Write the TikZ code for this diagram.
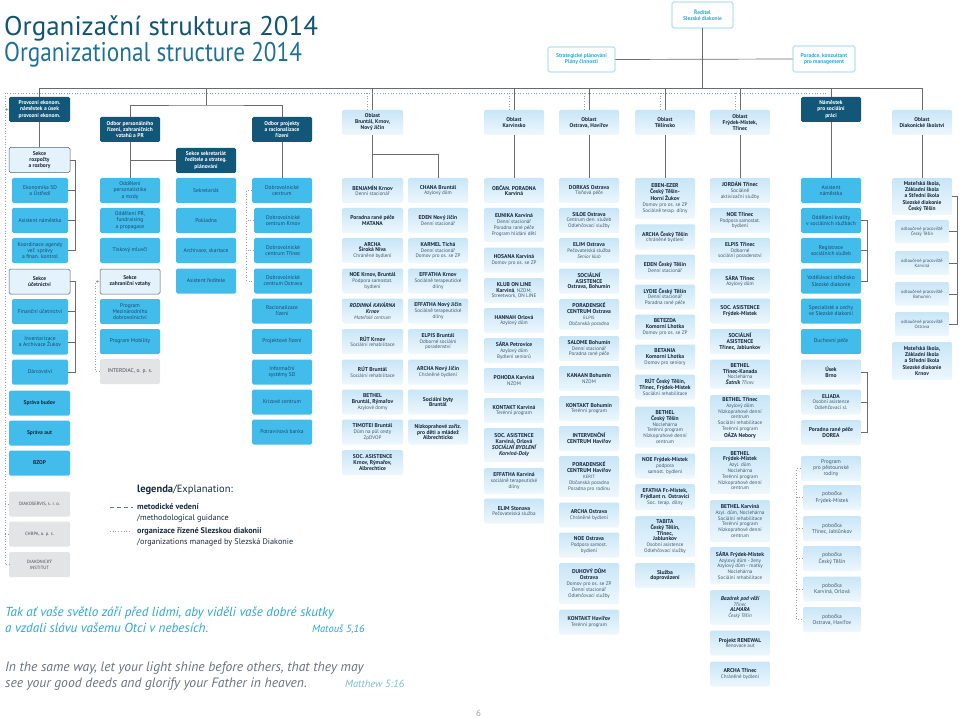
\documentclass[tikz,border=0pt]{standalone}
\usepackage{fontspec}
\setmainfont{PT Sans}
\newfontfamily\titlenarrow[FakeStretch=0.86]{PT Sans}
\usetikzlibrary{calc}
\usetikzlibrary{arrows.meta}
\usetikzlibrary{positioning}

\definecolor{headblue}{RGB}{18,86,120}
\definecolor{unitcyan}{RGB}{66,188,235}
\definecolor{unittext}{RGB}{30,72,112}
\definecolor{secfill}{RGB}{228,243,251}
\definecolor{secline}{RGB}{80,96,108}
\definecolor{svctop}{RGB}{200,230,247}
\definecolor{svcbot}{RGB}{238,247,253}
\definecolor{svctext}{RGB}{26,42,62}
\definecolor{subtext}{RGB}{62,88,112}
\definecolor{extfill}{RGB}{226,228,230}
\definecolor{exttext}{RGB}{70,74,78}
\definecolor{dircyan}{RGB}{44,168,218}
\definecolor{linegrey}{RGB}{105,108,110}
\definecolor{dotgrey}{RGB}{150,156,162}
\definecolor{titledark}{RGB}{16,84,118}
\definecolor{titlelight}{RGB}{32,112,150}
\definecolor{versecyan}{RGB}{38,168,214}
\definecolor{versegrey}{RGB}{105,115,125}
\definecolor{refteal}{RGB}{120,188,210}
\definecolor{legteal}{RGB}{40,140,180}

\newcommand{\boxfont}{\fontsize{5.5}{6.1}\selectfont}
\newcommand{\subfont}{\fontsize{5.1}{5.8}\selectfont}
\newcommand{\smfont}{\fontsize{4.6}{5.3}\selectfont}
\newcommand{\tb}[1]{{\fontsize{5.6}{6}\selectfont\bfseries\color{svctext}#1}}
\newcommand{\tbi}[1]{{\fontsize{5.6}{6}\selectfont\bfseries\itshape\color{svctext}#1}}

\tikzset{
	orgbox/.style={
		rounded corners=1.5pt,
		inner sep=1pt,
		minimum width=60pt,
		minimum height=25pt,
		align=center,
	},
	head/.style={orgbox, fill=headblue, text=white, font=\boxfont\bfseries},
	sekce/.style={orgbox, draw=secline, line width=0.5pt, fill=secfill, text=svctext, font=\boxfont\bfseries, minimum width=61pt},
	unit/.style={orgbox, fill=unitcyan, text=unittext, font=\boxfont},
	svc/.style={orgbox, top color=svctop, bottom color=svcbot, text=subtext, font=\subfont},
	ext/.style={orgbox, fill=extfill, text=exttext, font=\smfont, minimum width=61pt},
	dirbox/.style={orgbox, draw=dircyan!60, line width=0.6pt, fill=white, text=dircyan, font=\boxfont\bfseries},
	link/.style={draw=linegrey, line width=0.7pt},
	mgd/.style={draw=dotgrey, dotted, line width=0.7pt},
	arr/.style={-{Latex[length=3pt,width=3pt]}},
	plain/.style={anchor=base west, inner sep=0pt},
}

\begin{document}
\begin{tikzpicture}[x=1pt,y=-1pt]
	\useasboundingbox (0,0) rectangle (960,719);

	\node[plain, font=\fontsize{27}{30}\selectfont, text=titledark] (title) at (4,36) {Organizační struktura 2014};
	\node[plain, font=\titlenarrow\fontsize{27}{30}\selectfont, text=titlelight] (titleen) at (4,62) {Organizational structure 2014};

%*********

	\node[dirbox, minimum width=61pt, minimum height=26pt] (dir) at (702.5,15) {Ředitel\\Slezské diakonie};
	\node[dirbox, minimum width=67pt] (strat) at (581.5,59.5) {Strategické plánování\\Plány činnosti};
	\node[dirbox, minimum width=62pt, minimum height=26pt] (porad) at (824,59) {Poradce, konzultant\\pro management};

	\node[head, minimum width=61pt] (provoz) at (39.5,109.5) {Provozní ekonom.\\náměstek a úsek\\provozní ekonom.};
	\node[head] (pers) at (130,129.5) {Odbor personálního\\řízení, zahraničních\\vztahů a PR};
	\node[head] (sekr) at (206,160.5) {Sekce sekretariát\\ředitele a strateg.\\plánování};
	\node[head] (proj) at (282,129.5) {Odbor projekty\\a racionalizace\\řízení};
	\node[svc, font=\boxfont\bfseries, text=svctext, minimum width=61pt] (brun) at (372.5,122.5) {Oblast\\Bruntál, Krnov,\\Nový Jičín};
	\node[svc, font=\boxfont\bfseries, text=svctext] (karv) at (514,122.5) {Oblast\\Karvinsko};
	\node[svc, font=\boxfont\bfseries, text=svctext] (ostr) at (589,122.5) {Oblast\\Ostrava, Havířov};
	\node[svc, font=\boxfont\bfseries, text=svctext] (tes) at (665,122.5) {Oblast\\Těšínsko};
	\node[svc, font=\boxfont\bfseries, text=svctext] (frm) at (740,122.5) {Oblast\\Frýdek-Místek,\\Třinec};
	\node[head] (nam) at (831,109.5) {Náměstek\\pro sociální\\práci};
	\node[svc, font=\boxfont\bfseries, text=svctext] (skol) at (922,122.5) {Oblast\\Diakonické školství};

	\coordinate (busl) at (39.5,88);
	\coordinate (busr) at (922,88);
	\coordinate (subbus) at (206,105);
	\coordinate (dotl) at (5,93);
	\coordinate (dotr) at (826,93);

	\draw[link] (provoz.north) |- (busr) -- (skol.north);
	\draw[link] (dir.south) -- (dir.south |- busl);
	\draw[link] (strat.east) -- (porad.west);
	\draw[link] (subbus) -- (subbus |- busl);
	\draw[link] (pers.north) |- (subbus) -| (proj.north);
	\foreach \o in {brun,karv,ostr,tes,frm,nam}
		\draw[link] (\o.north) -- (\o.north |- busl);

	\draw[mgd] (dotr) -- (dotl);
	\foreach \o in {brun,karv,ostr,tes,frm}
		\draw[mgd] ([xshift=-5pt]\o.north) -- ([xshift=-5pt]\o.north |- dotl);

%*********  provozni usek

	\node[sekce] (rozp) at (39.5,160) {Sekce\\rozpočty\\a rozbory};
	\node[unit, minimum width=56pt] (ekon) at (40,190.5) {Ekonomika SD\\a Ústředí};
	\node[unit, minimum width=56pt] (asn) at (40,220.5) {Asistent náměstka};
	\node[unit, minimum width=56pt] (koord) at (40,250.5) {Koordinace agendy\\veř. správy\\a finan. kontrol};
	\node[sekce] (ucet) at (39.5,281.5) {Sekce\\účetnictví};
	\node[unit, minimum width=56pt] (finuc) at (40,311.5) {Finanční účetnictví};
	\node[unit, minimum width=56pt] (invent) at (40,342) {Inventarizace\\a Archivace Žukov};
	\node[unit, minimum width=56pt] (darc) at (40,372) {Dárcovství};
	\node[unit, minimum width=61pt, font=\boxfont\bfseries, text=svctext] (budov) at (39.5,403) {Správa budov};
	\node[unit, minimum width=61pt, font=\boxfont\bfseries, text=svctext] (aut) at (39.5,433) {Správa aut};
	\node[unit, minimum width=61pt, font=\boxfont\bfseries, text=svctext] (bzop) at (39.5,463) {BZOP};
	\node[ext] (diako) at (39.5,504) {DIAKOSERVIS, s. r. o.};
	\node[ext] (chrpa) at (39.5,534) {CHRPA, o. p. s.};
	\node[ext] (instit) at (39.5,564.5) {DIAKONICKÝ\\INSTITUT};

	\draw[link] (provoz.south) -- (rozp.north);
	\draw[link] (rozp.east) -| ([xshift=7pt]koord.east) -- (koord.east);
	\draw[link] (ekon.east) -- ++(7,0);
	\draw[link] (asn.east) -- ++(7,0);
	\draw[link] (ucet.east) -| ([xshift=7pt]darc.east) -- (darc.east);
	\draw[link] (finuc.east) -- ++(7,0);
	\draw[link] (invent.east) -- ++(7,0);

	\draw[mgd] (dotl) |- (instit.west);
	\draw[mgd,arr] (dotl |- provoz.west) -- (provoz.west);
	\draw[mgd] (diako.west) -- (diako.west -| dotl);
	\draw[mgd] (chrpa.west) -- (chrpa.west -| dotl);

%*********  personalni, sekretariat, projekty

	\node[unit] (mzdy) at (130,190.5) {Oddělení\\personalistika\\a mzdy};
	\node[unit] (pr) at (130,220.5) {Oddělení PR,\\fundraising\\a propagace};
	\node[unit] (tisk) at (130,250.5) {Tiskový mluvčí};
	\node[sekce, minimum width=60pt] (zahr) at (130,281.5) {Sekce\\zahraniční vztahy};
	\node[unit] (mezin) at (130,311.5) {Program\\Mezinárodního\\dobrovolnictví};
	\node[unit] (mobil) at (130,341.5) {Program Mobility};
	\node[ext, minimum width=60pt, font=\boxfont] (interd) at (130,371.5) {INTERDIAC, o. p. s.};

	\node[unit] (sekrt) at (206,190.5) {Sekretariát};
	\node[unit] (pokl) at (206,220.5) {Pokladna};
	\node[unit] (archiv) at (206,250.5) {Archivace, skartace};
	\node[unit] (asred) at (206,281) {Asistent ředitele};

	\node[unit] (dobr) at (282,190.5) {Dobrovolnické\\centrum};
	\node[unit, minimum width=58pt] (dobrkrn) at (283,220.5) {Dobrovolnické\\centrum Krnov};
	\node[unit, minimum width=58pt] (dobrtri) at (283,250.5) {Dobrovolnické\\centrum Třinec};
	\node[unit, minimum width=58pt] (dobrost) at (283,281) {Dobrovolnické\\centrum Ostrava};
	\node[unit] (racio) at (282,311) {Racionalizace\\řízení};
	\node[unit] (projr) at (282,341.5) {Projektové řízení};
	\node[unit] (infsys) at (282,372) {Informační\\systémy SD};
	\node[unit] (kriz) at (282,402) {Krizové centrum};
	\node[unit] (potr) at (282,432) {Potravinová banka};

	\draw[link] (pers.south) -- (mzdy.north);
	\draw[link] (sekr.west) -- (sekr.west -| pers.south);
	\draw[mgd,arr] (interd.west) -- ++(-4,0) |- (zahr.west);
	\draw[link] (proj.south) -- (dobr.north);
	\draw[mgd] (dobr.west) -- ++(-5,0) |- (dobrost.west);
	\draw[mgd] (dobrkrn.west) -- ++(-7,0);
	\draw[mgd] (dobrtri.west) -- ++(-7,0);

%*********  oblast Bruntal, Krnov, Novy Jicin

	\node[svc, minimum width=61pt] (benj) at (372.5,190.5) {\tb{BENJAMÍN Krnov}\\Denní stacionář};
	\node[svc, minimum width=61pt] (matana) at (372.5,220.5) {\tb{Poradna rané péče}\\\tb{MATANA}};
	\node[svc, minimum width=61pt] (archsn) at (372.5,250.5) {\tb{ARCHA}\\\tb{Široká Niva}\\Chráněné bydlení};
	\node[svc, minimum width=61pt] (noekr) at (372.5,281) {\tb{NOE Krnov, Bruntál}\\Podpora samostat.\\bydlení};
	\node[svc, minimum width=61pt] (kavarna) at (372.5,311) {\tbi{RODINNÁ KAVÁRNA}\\\tbi{Krnov}\\\textit{Mateřské centrum}};
	\node[svc, minimum width=61pt] (rutkr) at (372.5,341.5) {\tb{RÚT Krnov}\\Sociální rehabilitace};
	\node[svc, minimum width=61pt] (rutbr) at (372.5,372) {\tb{RÚT Bruntál}\\Sociální rehabilitace};
	\node[svc, minimum width=61pt] (bethbr) at (372.5,402) {\tb{BETHEL}\\\tb{Bruntál, Rýmařov}\\Azylové domy};
	\node[svc, minimum width=61pt] (timot) at (372.5,432) {\tb{TIMOTEI Bruntál}\\Dům na půl cesty\\ZpDVOP};
	\node[svc, minimum width=61pt] (asikr) at (372.5,462.5) {\tb{SOC. ASISTENCE}\\\tb{Krnov, Rýmařov,}\\\tb{Albrechtice}};

	\node[svc] (chana) at (438,190.5) {\tb{CHANA Bruntál}\\Azylový dům};
	\node[svc] (edennj) at (438,220.5) {\tb{EDEN Nový Jičín}\\Denní stacionář};
	\node[svc] (karmel) at (438,250.5) {\tb{KARMEL Tichá}\\Denní stacionář\\Domov pro os. se ZP};
	\node[svc] (effkr) at (438,281) {\tb{EFFATHA Krnov}\\Sociálně terapeutické\\dílny};
	\node[svc] (effnj) at (438,311) {\tb{EFFATHA Nový Jičín}\\Sociálně terapeutické\\dílny};
	\node[svc] (elpbr) at (438,341.5) {\tb{ELPIS Bruntál}\\Odborné sociální\\poradenství};
	\node[svc] (archnj) at (438,372) {\tb{ARCHA Nový Jičín}\\Chráněné bydlení};
	\node[svc] (byty) at (438,402) {\tb{Sociální byty}\\\tb{Bruntál}};
	\node[svc] (nizko) at (438,432) {\tb{Nízkoprahové zaříz.}\\\tb{pro děti a mládež}\\\tb{Albrechticko}};

	\coordinate (brsplit) at (372.5,154);
	\draw[link] (brun.south) -- (benj.north);
	\draw[link] (brsplit) -| (chana.north);

%*********  oblast Karvinsko

	\node[svc] (obcan) at (514,190.5) {\tb{OBČAN. PORADNA}\\\tb{Karviná}};
	\node[svc, minimum height=34pt] (eunika) at (514,225) {\tb{EUNIKA Karviná}\\Denní stacionář\\Poradna rané péče\\Program hlídání dětí};
	\node[svc] (hosana) at (514,260) {\tb{HOSANA Karviná}\\Domov pro os. se ZP};
	\node[svc] (klub) at (514,290.5) {\tb{KLUB ON LINE}\\\tb{Karviná}, NZDM,\\Streetwork, ON LINE};
	\node[svc] (hannah) at (514,320.5) {\tb{HANNAH Orlová}\\Azylový dům};
	\node[svc] (sarape) at (514,350.5) {\tb{SÁRA Petrovice}\\Azylový dům\\Bydlení seniorů};
	\node[svc] (pohoda) at (514,380.5) {\tb{POHODA Karviná}\\NZDM};
	\node[svc] (kontkv) at (514,410.5) {\tb{KONTAKT Karviná}\\Terénní program};
	\node[svc, minimum height=34pt] (asikv) at (514,445) {\tb{SOC. ASISTENCE}\\\tb{Karviná, Orlová}\\\tbi{SOCIÁLNÍ BYDLENÍ}\\\tbi{Karviná-Doly}};
	\node[svc, minimum height=26pt] (effkv) at (514,481) {\tb{EFFATHA Karviná}\\sociálně terapeutické\\dílny};
	\node[svc] (elimst) at (514,511) {\tb{ELIM Stonava}\\Pečovatelská služba};

	\draw[link] (karv.south) -- (obcan.north);

%*********  oblast Ostrava, Havirov

	\node[svc] (dorkas) at (589,190.5) {\tb{DORKAS Ostrava}\\Tísňová péče};
	\node[svc] (siloe) at (589,220.5) {\tb{SILOE Ostrava}\\Centrum den. služeb\\Odlehčovací služby};
	\node[svc] (elimos) at (589,250.5) {\tb{ELIM Ostrava}\\Pečovatelská služba\\\textit{Senior klub}};
	\node[svc] (asios) at (589,281) {\tb{SOCIÁLNÍ}\\\tb{ASISTENCE}\\\tb{Ostrava, Bohumín}};
	\node[svc, minimum height=31pt] (porost) at (589,314.5) {\tb{PORADENSKÉ}\\\tb{CENTRUM Ostrava}\\{\smfont ELPIS}\\Občanská poradna};
	\node[svc] (salome) at (589,348.5) {\tb{SALOME Bohumín}\\Denní stacionář\\Poradna rané péče};
	\node[svc] (kanaan) at (589,378.5) {\tb{KANAAN Bohumín}\\NZDM};
	\node[svc] (kontbo) at (589,408.5) {\tb{KONTAKT Bohumín}\\Terénní program};
	\node[svc] (interv) at (589,438.5) {\tb{INTERVENČNÍ}\\\tb{CENTRUM Havířov}};
	\node[svc, minimum height=41pt] (porhav) at (589,476.5) {\tb{PORADENSKÉ}\\\tb{CENTRUM Havířov}\\{\smfont KERIT}\\Občanská poradna\\Poradna pro rodinu};
	\node[svc] (archos) at (589,515) {\tb{ARCHA Ostrava}\\Chráněné bydlení};
	\node[svc] (noeos) at (589,545) {\tb{NOE Ostrava}\\Podpora samost.\\bydlení};
	\node[svc, minimum height=41pt] (duhovy) at (589,583.5) {\tb{DUHOVÝ DŮM}\\\tb{Ostrava}\\Domov pro os. se ZP\\Denní stacionář\\Odlehčovací služby};
	\node[svc] (konthav) at (589,622) {\tb{KONTAKT Havířov}\\Terénní program};

	\draw[link] (ostr.south) -- (dorkas.north);

%*********  oblast Tesinsko

	\node[svc, minimum height=41pt] (eben) at (665,198.5) {\tb{EBEN-EZER}\\\tb{Český Těšín-}\\\tb{Horní Žukov}\\Domov pro os. se ZP\\Sociálně terap. dílny};
	\node[svc] (archct) at (665,237) {\tb{ARCHA Český Těšín}\\chráněné bydlení};
	\node[svc] (edenct) at (665,267) {\tb{EDEN Český Těšín}\\Denní stacionář};
	\node[svc] (lydie) at (665,297) {\tb{LYDIE Český Těšín}\\Denní stacionář\\Poradna rané péče};
	\node[svc] (betezda) at (665,327) {\tb{BETEZDA}\\\tb{Komorní Lhotka}\\Domov pro os. se ZP};
	\node[svc] (betania) at (665,357) {\tb{BETANIA}\\\tb{Komorní Lhotka}\\Domov pro seniory};
	\node[svc] (rutct) at (665,387) {\tb{RÚT Český Těšín,}\\\tb{Třinec, Frýdek-Místek}\\Sociální rehabilitace};
	\node[svc, minimum height=41pt] (bethct) at (665,427) {\tb{BETHEL}\\\tb{Český Těšín}\\Noclehárna\\Terénní program\\Nízkoprahové denní\\centrum};
	\node[svc] (noefm) at (665,466) {\tb{NOE Frýdek-Místek}\\podpora\\samost. bydlení};
	\node[svc, minimum height=26pt] (efafm) at (665,497) {\tb{EFATHA Fr.-Místek,}\\\tb{Frýdlant n. Ostravicí}\\Soc. terap. dílny};
	\node[svc, minimum height=41pt] (tabita) at (665,536.5) {\tb{TABITA}\\\tb{Český Těšín,}\\\tb{Třinec,}\\\tb{Jablunkov}\\Osobní asistence\\Odlehčovací služby};
	\node[svc] (doprov) at (665,575.5) {\tb{Služba}\\\tb{doprovázení}};

	\draw[link] (tes.south) -- (eben.north);

%*********  oblast Frydek-Mistek, Trinec

	\node[svc] (jordan) at (740,190.5) {\tb{JORDÁN Třinec}\\Sociálně\\aktivizační služby};
	\node[svc] (noetr) at (740,220.5) {\tb{NOE Třinec}\\Podpora samostat.\\bydlení};
	\node[svc] (elptr) at (740,250.5) {\tb{ELPIS Třinec}\\Odborné\\sociální poradenství};
	\node[svc] (saratr) at (740,281) {\tb{SÁRA Třinec}\\Azylový dům};
	\node[svc] (asifm) at (740,311) {\tb{SOC. ASISTENCE}\\\tb{Frýdek-Místek}};
	\node[svc] (asitr) at (740,341.5) {\tb{SOCIÁLNÍ}\\\tb{ASISTENCE}\\\tb{Třinec, Jablunkov}};
	\node[svc, minimum height=29pt] (bethka) at (740,374) {\tb{BETHEL}\\\tb{Třinec-Kanada}\\Noclehárna\\\tbi{Šatník} \textit{Třinec}};
	\node[svc, minimum height=46pt] (bethtr) at (740,418) {\tb{BETHEL Třinec}\\Azylový dům\\Nízkoprahové denní\\centrum\\Sociální rehabilitace\\Terénní program\\\tb{OÁZA Nebory}};
	\node[svc, minimum height=47pt] (bethfm) at (740,470.5) {\tb{BETHEL}\\\tb{Frýdek-Místek}\\Azyl. dům\\Noclehárna\\Terénní program\\Nízkoprahové denní\\centrum};
	\node[svc, minimum height=42pt] (bethkv) at (740,521) {\tb{BETHEL Karviná}\\Azyl. dům, Noclehárna\\Sociální rehabilitace\\Terénní program\\Nízkoprahové denní\\centrum};
	\node[svc, minimum height=37pt] (sarafm) at (740,565.5) {\tb{SÁRA Frýdek-Místek}\\Azylový dům - ženy\\Azylový dům - matky\\Noclehárna\\Sociální rehabilitace};
	\node[svc, minimum height=35pt] (bazar) at (740,607.5) {\tbi{Bazárek pod věží}\\\textit{Třinec}\\\tbi{ALMARA}\\\textit{Český Těšín}};
	\node[svc] (renew) at (740,643) {\tb{Projekt RENEWAL}\\Renovace aut};
	\node[svc] (archtr) at (740,674) {\tb{ARCHA Třinec}\\Chráněné bydlení};

	\draw[link] (frm.south) -- (jordan.north);

%*********  namestek pro socialni praci

	\node[unit] (nasist) at (831,190.5) {Asistent\\náměstka};
	\node[unit] (kval) at (831,220.5) {Oddělení kvality\\v sociálních službách};
	\node[unit] (regist) at (831,250.5) {Registrace\\sociálních služeb};
	\node[unit] (vzdel) at (831,281) {Vzdělávací středisko\\Slezské diakonie};
	\node[unit] (special) at (831,311) {Specialisté a cechy\\ve Slezské diakonii};
	\node[unit] (duch) at (831,341.5) {Duchovní péče};
	\node[svc] (brno) at (831,372) {\tb{Úsek}\\\tb{Brno}};
	\node[svc] (eliada) at (831,402) {\tb{ELIADA}\\Osobní asistence\\Odlehčovací sl.};
	\node[svc] (dorea) at (831,432.5) {\tb{Poradna rané péče}\\\tb{DOREA}};
	\node[svc, font=\boxfont] (pest) at (831,468.5) {Program\\pro pěstounské\\rodiny};
	\node[svc, font=\boxfont, minimum width=58pt] (pobfm) at (832,497.5) {pobočka\\Frýdek-Místek};
	\node[svc, font=\boxfont, minimum width=58pt] (pobtr) at (832,528.5) {pobočka\\Třinec, Jablůnkov};
	\node[svc, font=\boxfont, minimum width=58pt] (pobct) at (832,558.5) {pobočka\\Český Těšín};
	\node[svc, font=\boxfont, minimum width=58pt] (pobkv) at (832,589) {pobočka\\Karviná, Orlová};
	\node[svc, font=\boxfont, minimum width=58pt] (pobos) at (832,619.5) {pobočka\\Ostrava, Havířov};

	\draw[link] (nam.south) -- (nasist.north);
	\draw[link] (kval.east) -| ([xshift=6pt]vzdel.east) -- (vzdel.east);
	\draw[link] (regist.east) -- ++(6,0);
	\draw[link] (brno.east) -| ([xshift=6pt]dorea.east) -- (dorea.east);
	\draw[link] (eliada.east) -- ++(6,0);
	\draw[mgd] (pest.west) -- ++(-4,0) |- (pobos.west);
	\foreach \p in {pobfm,pobtr,pobct,pobkv}
		\draw[mgd] (\p.west) -- ++(-6,0);

%*********  oblast Diakonicke skolstvi

	\node[svc, font=\boxfont\bfseries, text=svctext, minimum height=37pt] (ms1) at (922,196.5) {Mateřská škola,\\Základní škola\\a Střední škola\\Slezské diakonie\\Český Těšín};
	\node[svc, font=\smfont, minimum width=54pt, minimum height=23pt] (odlct) at (922,231.5) {odloučené pracoviště\\Český Těšín};
	\node[svc, font=\smfont, minimum width=54pt, minimum height=24pt] (odlkv) at (922,263) {odloučené pracoviště\\Karviná};
	\node[svc, font=\smfont, minimum width=54pt, minimum height=24pt] (odlbo) at (922,294) {odloučené pracoviště\\Bohumín};
	\node[svc, font=\smfont, minimum width=54pt, minimum height=24pt] (odlos) at (922,324) {odloučené pracoviště\\Ostrava};
	\node[svc, font=\boxfont\bfseries, text=svctext, minimum height=38pt] (ms2) at (922,361) {Mateřská škola,\\Základní škola\\a Střední škola\\Slezské diakonie\\Krnov};

	\draw[link] (skol.south) -- (ms1.north);
	\draw[link] (ms1.east) -| ([xshift=8pt]odlos.east) -- (odlos.east);
	\foreach \s in {odlct,odlkv,odlbo}
		\draw[link] (\s.east) -- ++(8,0);

%*********  legenda

	\node[plain, font=\fontsize{10.5}{12}\selectfont, text=svctext] (leg) at (137,492) {\textbf{legenda}/Explanation:};
	\node[plain, font=\fontsize{8.2}{9.5}\selectfont\bfseries, text=svctext] (legmet) at (137,509.5) {metodické vedení};
	\node[plain, font=\fontsize{8.2}{9.5}\selectfont, text=svctext] (legmeten) at (137,520.5) {/methodological guidance};
	\node[plain, font=\fontsize{8.2}{9.5}\selectfont\bfseries, text=svctext] (legorg) at (137,533.5) {organizace řízené Slezskou diakonií};
	\node[plain, font=\fontsize{8.2}{9.5}\selectfont, text=svctext] (legorgen) at (137,544.5) {/organizations managed by Slezská Diakonie};

	\coordinate (dasha) at (110,507);
	\coordinate (dashb) at (133,507);
	\coordinate (dota) at (110,531);
	\coordinate (dotb) at (129,531);
	\draw[legteal, line width=0.8pt, dash pattern=on 4pt off 3pt] (dasha) -- (dashb);
	\draw[mgd] (dota) -- (dotb);

%*********  verse

	\node[plain, font=\fontsize{13.1}{15}\selectfont\itshape, text=versecyan] (verse) at (5,616) {Tak ať vaše světlo září před lidmi, aby viděli vaše dobré skutky};
	\node[plain, font=\fontsize{13.1}{15}\selectfont\itshape, text=versecyan] (versetwo) at (5,632) {a vzdali slávu vašemu Otci v nebesích.};
	\node[plain, font=\fontsize{10.5}{12}\selectfont\itshape, text=versecyan] (matous) at (312,632) {Matouš 5,16};
	\node[plain, font=\fontsize{13.6}{15}\selectfont\itshape, text=versegrey] (verseen) at (5,671) {In the same way, let your light shine before others, that they may};
	\node[plain, font=\fontsize{13.6}{15}\selectfont\itshape, text=versegrey] (verseentwo) at (5,687) {see your good deeds and glorify your Father in heaven.};
	\node[plain, font=\fontsize{10.5}{12}\selectfont\itshape, text=refteal] (matthew) at (345,687) {Matthew 5:16};
	\node[plain, font=\fontsize{9}{10}\selectfont, text=versegrey!70] (page) at (476,716) {6};

\end{tikzpicture}
\end{document}
